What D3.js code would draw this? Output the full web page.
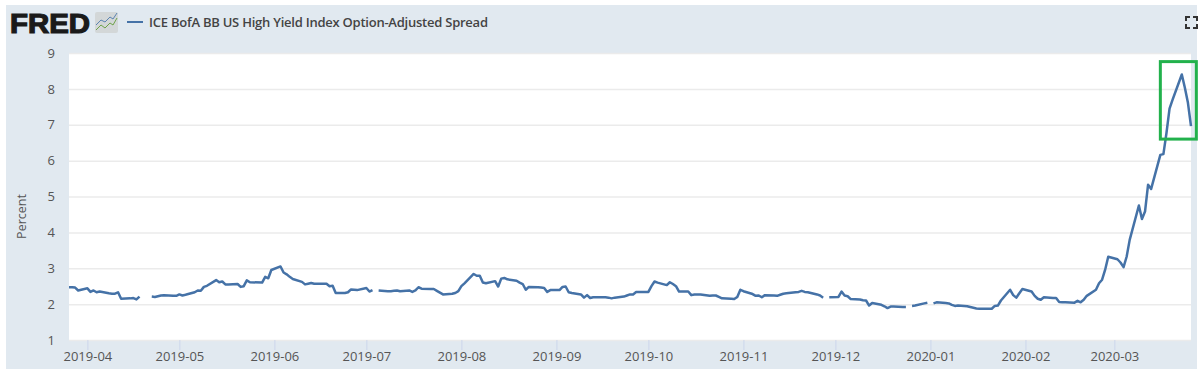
<!DOCTYPE html>
<html>
<head>
<meta charset="utf-8">
<title>FRED</title>
<script src="https://cdn.jsdelivr.net/npm/d3@7"></script>
<style>
  html, body { margin: 0; padding: 0; background: #fff; }
  text { font-family: "Open Sans", sans-serif; }
</style>
</head>
<body>
<div id="chart"></div>
<script>
const seriesName = 'ICE BofA BB US High Yield Index Option-Adjusted Spread'
const yTicks = [1, 2, 3, 4, 5, 6, 7, 8, 9]
const xTicks = ['2019-04-01', '2019-05-01', '2019-06-01', '2019-07-01', '2019-08-01', '2019-09-01',
  '2019-10-01', '2019-11-01', '2019-12-01', '2020-01-01', '2020-02-01', '2020-03-01']

// [day of month, value], null where the source has no observation
const mar19 = [[26, 2.49], [27, 2.49], [28, 2.48], [29, 2.40]]
const apr19 = [[1, 2.46], [2, 2.36], [3, 2.40], [4, 2.35], [5, 2.37], [8, 2.32], [9, 2.31], [10, 2.31], [11, 2.35], [12, 2.17], [15, 2.18], [16, 2.19], [17, 2.15], [18, 2.23], [19, null], [22, 2.23], [23, 2.22], [24, 2.24], [25, 2.26], [26, 2.27], [29, 2.25], [30, 2.25]]
const may19 = [[1, 2.29], [2, 2.26], [3, 2.28], [6, 2.35], [7, 2.40], [8, 2.39], [9, 2.50], [10, 2.53], [13, 2.69], [14, 2.63], [15, 2.65], [16, 2.57], [17, 2.57], [20, 2.58], [21, 2.50], [22, 2.52], [23, 2.68], [24, 2.63], [28, 2.62], [29, 2.78], [30, 2.74], [31, 2.97]]
const jun19 = [[3, 3.07], [4, 2.90], [5, 2.85], [6, 2.78], [7, 2.72], [10, 2.64], [11, 2.57], [12, 2.59], [13, 2.61], [14, 2.59], [17, 2.59], [18, 2.59], [19, 2.52], [20, 2.53], [21, 2.33], [24, 2.33], [25, 2.35], [26, 2.43], [27, 2.42], [28, 2.41]]
const jul19 = [[1, 2.47], [2, 2.37], [3, 2.41], [4, null], [5, 2.40], [8, 2.38], [9, 2.38], [10, 2.39], [11, 2.40], [12, 2.38], [15, 2.40], [16, 2.36], [17, 2.40], [18, 2.49], [19, 2.45], [22, 2.44], [23, 2.44], [24, 2.39], [25, 2.34], [26, 2.29], [29, 2.31], [30, 2.33], [31, 2.38]]
const aug19 = [[1, 2.52], [2, 2.60], [5, 2.86], [6, 2.81], [7, 2.81], [8, 2.62], [9, 2.60], [12, 2.66], [13, 2.51], [14, 2.73], [15, 2.75], [16, 2.71], [19, 2.67], [20, 2.62], [21, 2.58], [22, 2.42], [23, 2.50], [26, 2.49], [27, 2.48], [28, 2.47], [29, 2.36], [30, 2.41]]
const sep19 = [[2, 2.41], [3, 2.50], [4, 2.51], [5, 2.35], [6, 2.33], [9, 2.29], [10, 2.20], [11, 2.27], [12, 2.19], [13, 2.21], [16, 2.21], [17, 2.21], [18, 2.20], [19, 2.18], [20, 2.20], [23, 2.23], [24, 2.26], [25, 2.29], [26, 2.29], [27, 2.36], [30, 2.36]]
const oct19 = [[1, 2.36], [2, 2.52], [3, 2.65], [4, 2.62], [7, 2.55], [8, 2.63], [9, 2.58], [10, 2.52], [11, 2.37], [14, 2.37], [15, 2.27], [16, 2.29], [17, 2.29], [18, 2.29], [21, 2.25], [22, 2.26], [23, 2.26], [24, 2.22], [25, 2.18], [28, 2.17], [29, 2.16], [30, 2.22], [31, 2.42]]
const nov19 = [[1, 2.38], [4, 2.30], [5, 2.25], [6, 2.26], [7, 2.21], [8, 2.27], [11, 2.26], [12, 2.25], [13, 2.28], [14, 2.31], [15, 2.32], [18, 2.35], [19, 2.36], [20, 2.39], [21, 2.36], [22, 2.35], [25, 2.29], [26, 2.26], [27, 2.20], [28, null], [29, 2.21]]
const dec19 = [[2, 2.22], [3, 2.37], [4, 2.26], [5, 2.24], [6, 2.16], [9, 2.15], [10, 2.13], [11, 2.12], [12, 1.98], [13, 2.05], [16, 2.00], [17, 1.96], [18, 1.91], [19, 1.95], [20, 1.95], [23, 1.94], [24, 1.94], [25, null], [26, 1.97], [27, 1.98], [30, 2.04], [31, 2.06]]
const jan20 = [[1, null], [2, 2.04], [3, 2.07], [6, 2.05], [7, 2.04], [8, 2.00], [9, 1.97], [10, 1.98], [13, 1.96], [14, 1.94], [15, 1.92], [16, 1.90], [17, 1.89], [20, 1.89], [21, 1.89], [22, 1.97], [23, 1.98], [24, 2.12], [27, 2.42], [28, 2.27], [29, 2.20], [30, 2.32], [31, 2.44]]
const feb20 = [[3, 2.37], [4, 2.25], [5, 2.17], [6, 2.14], [7, 2.21], [10, 2.19], [11, 2.19], [12, 2.08], [13, 2.07], [14, 2.07], [17, 2.06], [18, 2.11], [19, 2.07], [20, 2.14], [21, 2.25], [24, 2.42], [25, 2.60], [26, 2.70], [27, 2.98], [28, 3.34]]
const mar20 = [[2, 3.27], [3, 3.18], [4, 3.05], [5, 3.34], [6, 3.81], [9, 4.77], [10, 4.39], [11, 4.60], [12, 5.35], [13, 5.23], [16, 6.18], [17, 6.20], [18, 6.79], [19, 7.47], [20, 7.72], [23, 8.42], [24, 8.05], [25, 7.63], [26, 6.98]]

const months = [
  ['2019-03', mar19], ['2019-04', apr19], ['2019-05', may19], ['2019-06', jun19],
  ['2019-07', jul19], ['2019-08', aug19], ['2019-09', sep19], ['2019-10', oct19],
  ['2019-11', nov19], ['2019-12', dec19], ['2020-01', jan20], ['2020-02', feb20], ['2020-03', mar20]
]

const parseDay = d3.utcParse('%Y-%m-%d')
const points = months.flatMap(([month, rows]) =>
  rows.map(([day, value]) => ({ date: parseDay(`${month}-${String(day).padStart(2, '0')}`), value }))
)

const width = 1200
const height = 375
const margin = { top: 53, right: 9, bottom: 35, left: 69 }

const svg = d3.select('#chart')
  .append('svg')
  .attr('width', width)
  .attr('height', height)
  .style('display', 'block')

// panel
svg.append('rect')
  .attr('x', 6)
  .attr('y', 5)
  .attr('width', 1191)
  .attr('height', 364)
  .attr('fill', '#e1e9f0')

svg.append('rect')
  .attr('x', margin.left)
  .attr('y', margin.top)
  .attr('width', width - margin.left - margin.right)
  .attr('height', height - margin.top - margin.bottom)
  .attr('fill', '#fff')

const x = d3.scaleUtc()
  .domain([parseDay('2019-03-26'), parseDay('2020-03-26')])
  .range([margin.left, width - margin.right])

const y = d3.scaleLinear()
  .domain([1, 9])
  .range([height - margin.bottom, margin.top])

const grid = svg.append('g')
  .attr('transform', `translate(${margin.left},0)`)
  .call(d3.axisLeft(y).tickValues(yTicks).tickSize(-(width - margin.left - margin.right)).tickFormat(d => d))

grid.select('.domain').remove()
grid.selectAll('line').attr('stroke', '#ebebeb').attr('stroke-width', 1.5)
grid.selectAll('text')
  .attr('x', -14)
  .attr('font-size', 13)
  .attr('font-family', '"Open Sans", sans-serif')
  .attr('fill', '#555')

const xAxis = svg.append('g')
  .attr('transform', `translate(0,${height - margin.bottom})`)
  .call(d3.axisBottom(x)
    .tickValues(xTicks.map(parseDay))
    .tickSize(10)
    .tickFormat(d3.utcFormat('%Y-%m')))

xAxis.select('.domain').remove()
xAxis.selectAll('line').attr('stroke', '#ccd6eb')
xAxis.selectAll('text')
  .attr('y', 12)
  .attr('dy', '0.71em')
  .attr('font-size', 13)
  .attr('font-family', '"Open Sans", sans-serif')
  .attr('fill', '#555')

const line = d3.line()
  .defined(d => d.value !== null)
  .x(d => x(d.date))
  .y(d => y(d.value))

svg.append('path')
  .datum(points)
  .attr('transform', 'translate(0,0.7)')
  .attr('fill', 'none')
  .attr('stroke', '#4572a7')
  .attr('stroke-width', 2.5)
  .attr('stroke-linejoin', 'round')
  .attr('d', line)

// green highlight drawn on top of the chart
svg.append('rect')
  .attr('x', x(parseDay('2020-03-16')))
  .attr('y', y(8.76))
  .attr('width', 36)
  .attr('height', y(6.6) - y(8.76))
  .attr('fill', 'none')
  .attr('stroke', '#22b14c')
  .attr('stroke-width', 3)

svg.append('text')
  .attr('transform', `translate(26,${(margin.top + height - margin.bottom) / 2 + 20}) rotate(-90)`)
  .attr('text-anchor', 'middle')
  .attr('font-size', 12.5)
  .attr('fill', '#555')
  .text('Percent')

// header
svg.append('text')
  .attr('x', 10)
  .attr('y', 33)
  .attr('font-weight', 700)
  .attr('font-size', 27)
  .attr('textLength', 80)
  .attr('lengthAdjust', 'spacingAndGlyphs')
  .attr('stroke', '#1a1a1a')
  .attr('stroke-width', 1.2)
  .attr('fill', '#1a1a1a')
  .style('font-family', '"Liberation Sans", sans-serif')
  .text('FRED')

const logo = svg.append('g').attr('transform', 'translate(95,12)')
logo.append('rect')
  .attr('width', 23)
  .attr('height', 21)
  .attr('rx', 2)
  .attr('fill', '#d3d7d8')
logo.append('path')
  .attr('d', 'M1,13 L6,8 L10,10 L15,5 L18,7 L22,1')
  .attr('fill', 'none')
  .attr('stroke', '#5b84b1')
logo.append('path')
  .attr('d', 'M1,18 L6,13 L10,16 L15,11 L18,13 L22,6')
  .attr('fill', 'none')
  .attr('stroke', '#6ea34a')

svg.append('line')
  .attr('x1', 127)
  .attr('x2', 143)
  .attr('y1', 22)
  .attr('y2', 22)
  .attr('stroke', '#4572a7')
  .attr('stroke-width', 2)

svg.append('text')
  .attr('x', 149)
  .attr('y', 27)
  .attr('font-size', 13)
  .attr('font-weight', 600)
  .attr('fill', '#444')
  .attr('textLength', 339)
  .text(seriesName)

// fullscreen icon
const corners = [[1186, 21, 1186, 17, 1190, 17], [1193, 17, 1197, 17, 1197, 21], [1186, 24, 1186, 28, 1190, 28], [1193, 28, 1197, 28, 1197, 24]]
svg.append('g')
  .selectAll('path')
  .data(corners)
  .join('path')
  .attr('d', c => `M${c[0]},${c[1]} L${c[2]},${c[3]} L${c[4]},${c[5]}`)
  .attr('fill', 'none')
  .attr('stroke', '#333')
  .attr('stroke-width', 2)
</script>
</body>
</html>
